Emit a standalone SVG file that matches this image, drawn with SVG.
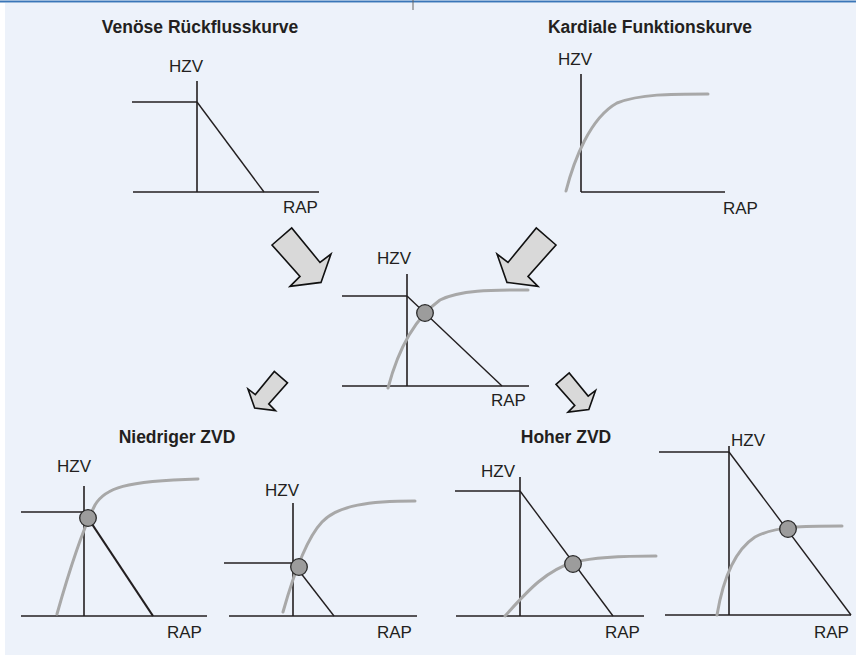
<svg xmlns="http://www.w3.org/2000/svg" width="856" height="655" viewBox="0 0 856 655">
<style>
.ax{stroke:#231f20;stroke-width:1.6;fill:none}
.dg{stroke:#231f20;stroke-width:1.4;fill:none}
.cv{stroke:#a8a8a8;stroke-width:3;fill:none;stroke-linecap:round}
.dot{fill:#9c9c9c;stroke:#2a2a2a;stroke-width:1.3}
.lb{font-family:"Liberation Sans",Arial,sans-serif;font-size:17px;fill:#231f20}
.tt{font-family:"Liberation Sans",Arial,sans-serif;font-size:17.5px;font-weight:bold;fill:#231f20;text-anchor:middle}
.arr{fill:#d9d9d9;stroke:#111;stroke-width:1.6;stroke-linejoin:miter}
</style>
<defs>
<path id="bigArrow" d="M0,17 L19.7,0 L48,34.4 L59,26 L49,54.4 L18,58.4 L28,48.4 Z"/>
</defs>
<rect x="0" y="0" width="856" height="655" fill="#ffffff"/>
<rect x="5" y="3" width="851" height="652" fill="#edf2fa"/>
<line x1="0" y1="1.5" x2="856" y2="1.5" stroke="#3a76b8" stroke-width="2"/>
<line x1="413" y1="0" x2="413" y2="10" stroke="#666" stroke-width="1"/>

<g id="venous">
<text class="tt" x="200" y="33">Venöse Rückflusskurve</text>
<text class="lb" x="169" y="72">HZV</text>
<line class="ax" x1="197" y1="81" x2="197" y2="192"/>
<line class="ax" x1="132" y1="102" x2="197" y2="102"/>
<line class="ax" x1="133" y1="192" x2="319" y2="192"/>
<line class="dg" x1="197" y1="102" x2="264" y2="192"/>
<text class="lb" x="283" y="213">RAP</text>
</g>

<g id="cardiac">
<text class="tt" x="650" y="33">Kardiale Funktionskurve</text>
<text class="lb" x="558" y="65">HZV</text>
<line class="ax" x1="581" y1="74" x2="581" y2="192"/>
<line class="ax" x1="581" y1="192" x2="725" y2="192"/>
<path class="cv" d="M566,191 C574,160 590,118 617,103 C640,94 670,94 708,94"/>
<text class="lb" x="723" y="214">RAP</text>
</g>

<g id="combined">
<text class="lb" x="377" y="264">HZV</text>
<line class="ax" x1="407" y1="274" x2="407" y2="386"/>
<line class="ax" x1="342" y1="296" x2="407" y2="296"/>
<line class="ax" x1="342" y1="386" x2="529" y2="386"/>
<path class="cv" d="M388,388 C398,350 415,318 440,300 C460,290 490,290 528,290"/>
<line class="dg" x1="407" y1="296" x2="502" y2="386"/>
<circle class="dot" cx="425" cy="313" r="8.3"/>
<text class="lb" x="491" y="406">RAP</text>
</g>

<g id="low-zvd-title">
<text class="tt" x="177" y="443">Niedriger ZVD</text>
</g>
<g id="high-zvd-title">
<text class="tt" x="566" y="443">Hoher ZVD</text>
</g>

<g id="low1">
<text class="lb" x="57" y="472">HZV</text>
<line class="ax" x1="84" y1="486" x2="84" y2="616"/>
<line class="ax" x1="21" y1="512" x2="84" y2="512"/>
<line class="ax" x1="21" y1="616" x2="207" y2="616"/>
<path class="cv" d="M57,614 C68,575 80,535 95,505 C105,488 125,481 198,479"/>
<line class="dg" x1="84" y1="512" x2="153" y2="616" style="stroke-width:2.2"/>
<circle class="dot" cx="88" cy="518" r="8.3"/>
<text class="lb" x="167" y="638">RAP</text>
</g>

<g id="low2">
<text class="lb" x="265" y="496">HZV</text>
<line class="ax" x1="293" y1="503" x2="293" y2="616"/>
<line class="ax" x1="224" y1="563" x2="293" y2="563"/>
<line class="ax" x1="229" y1="616" x2="417" y2="616"/>
<path class="cv" d="M283,612 C292,580 305,540 322,522 C338,505 370,501 415,501"/>
<line class="dg" x1="293" y1="563" x2="334" y2="616"/>
<circle class="dot" cx="299" cy="567" r="8.3"/>
<text class="lb" x="377" y="638">RAP</text>
</g>

<g id="high1">
<text class="lb" x="481" y="477">HZV</text>
<line class="ax" x1="520" y1="477" x2="520" y2="616"/>
<line class="ax" x1="455" y1="491" x2="520" y2="491"/>
<line class="ax" x1="456" y1="616" x2="644" y2="616"/>
<path class="cv" d="M505,616 C525,594 545,570 575,562 C595,557 620,556 656,556"/>
<line class="dg" x1="520" y1="491" x2="613" y2="616"/>
<circle class="dot" cx="573" cy="564" r="8.3"/>
<text class="lb" x="605" y="638">RAP</text>
</g>

<g id="high2">
<text class="lb" x="731" y="446">HZV</text>
<line class="ax" x1="729" y1="446" x2="729" y2="615"/>
<line class="ax" x1="659" y1="452" x2="729" y2="452"/>
<line class="ax" x1="665" y1="615" x2="851" y2="615"/>
<path class="cv" d="M717,615 C722,585 732,552 755,537 C775,526 805,526 842,526"/>
<line class="dg" x1="729" y1="452" x2="851" y2="615"/>
<circle class="dot" cx="788" cy="529" r="8.3"/>
<text class="lb" x="814" y="638">RAP</text>
</g>

<g id="connectors">
<use href="#bigArrow" class="arr" transform="translate(272,228)"/>
<use href="#bigArrow" class="arr" transform="translate(556,228) scale(-1,1)"/>
<use href="#bigArrow" class="arr" transform="translate(287.5,371.5) scale(-0.67,0.67)" style="stroke-width:2.4"/>
<use href="#bigArrow" class="arr" transform="translate(556,373) scale(0.67)" style="stroke-width:2.4"/>
</g>
</svg>
